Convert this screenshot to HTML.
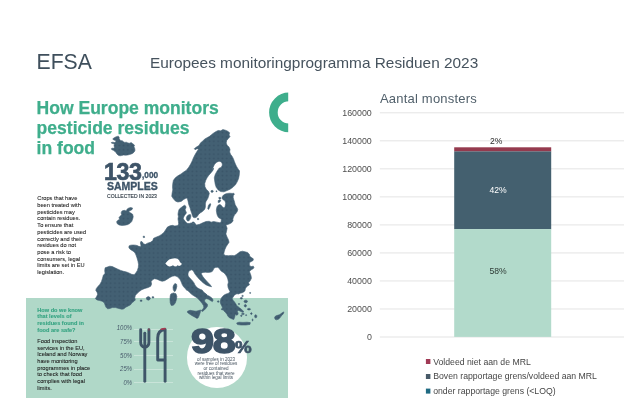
<!DOCTYPE html>
<html lang="nl">
<head>
<meta charset="utf-8">
<title>Europees monitoringprogramma Residuen 2023</title>
<style>
html,body{margin:0;padding:0;background:#fff;}
body{width:626px;height:417px;position:relative;overflow:hidden;font-family:"Liberation Sans",sans-serif;color:#3f4f5c;}
.abs{position:absolute;white-space:nowrap;line-height:1;}
#efsa{left:36.5px;top:50.5px;font-size:21.2px;color:#3f4f5c;}
#title{left:150px;top:54.5px;font-size:15.39px;color:#46535e;}
#band{position:absolute;left:26px;top:298px;width:262px;height:100px;background:#b0d8c8;}
#h1{left:36.6px;top:97.9px;font-size:17.55px;line-height:20px;-webkit-text-stroke:.25px #3fae8c;font-weight:bold;color:#3fae8c;white-space:pre;}
.dk{color:#3e5468;}
#n133{left:103.9px;top:161.1px;font-size:23.2px;font-weight:bold;letter-spacing:-0.3px;-webkit-text-stroke:.7px #3e5468;transform:scaleX(1.0);transform-origin:0 0;}
#n000{left:141.6px;top:169.7px;font-size:9.6px;font-weight:bold;transform:scaleX(.86);transform-origin:0 0;-webkit-text-stroke:.35px #3e5468;}
#samp{left:106.6px;top:180.9px;font-size:11px;font-weight:bold;transform:scaleX(.955);transform-origin:0 0;-webkit-text-stroke:.35px #3e5468;}
#coll{left:107px;top:193.7px;font-size:5.8px;transform:scaleX(.88);transform-origin:0 0;color:#2e3a44;-webkit-text-stroke:.15px #2e3a44;}
.para{position:absolute;left:37.3px;font-size:5.68px;line-height:6.7px;white-space:pre;color:#1c1c1c;-webkit-text-stroke:.07px #1c1c1c;}
#p1{top:195.3px;}
#q{top:306.5px;font-weight:bold;color:#34a381;font-size:5.6px;-webkit-text-stroke:.1px #34a381;}
#p2{top:337.8px;}
.pct{position:absolute;width:30px;left:102px;text-align:right;font-size:6.6px;font-style:italic;color:#46596a;line-height:8px;transform:scaleX(.9);transform-origin:100% 50%;}
.hl{position:absolute;left:133.6px;width:39.5px;height:0.7px;background:rgba(255,255,255,.32);}
#circ{position:absolute;left:187px;top:327.3px;width:60.4px;height:60.4px;border-radius:50%;background:#fff;}
#n98{left:190.6px;top:324px;font-size:34.5px;font-weight:bold;letter-spacing:-1px;-webkit-text-stroke:1.5px #3e5468;transform:scaleX(1.2);transform-origin:0 0;}
#npc{left:235.4px;top:339.8px;font-size:16px;font-weight:bold;-webkit-text-stroke:.7px #3e5468;transform:scaleX(1.17);transform-origin:0 0;}
#ctxt{position:absolute;left:186.5px;width:59px;top:357.5px;text-align:center;font-size:4.55px;line-height:4.73px;color:#46535f;white-space:pre;}
/* chart */
#ctitle{left:380px;top:91.5px;font-size:13px;color:#51606b;letter-spacing:.2px;}
.yl{position:absolute;left:330px;width:41.8px;text-align:right;font-size:8.85px;line-height:10px;color:#4f4f4f;}
.dl{position:absolute;left:449.5px;width:97px;text-align:center;font-size:8.6px;line-height:9px;}
.lg{position:absolute;left:433.2px;font-size:8.7px;line-height:10px;color:#464646;white-space:nowrap;}
</style>
</head>
<body>
<div id="efsa" class="abs">EFSA</div>
<div id="title" class="abs">Europees monitoringprogramma Residuen 2023</div>

<div id="band"></div>
<div id="h1" class="abs">How Europe monitors
pesticide residues
in food</div>
<!--MAP--><svg id="map" width="626" height="417" viewBox="0 0 626 417" style="position:absolute;left:0;top:0">
<defs><pattern id="dots" x="1" y="1.5" width="4.3" height="4.3" patternUnits="userSpaceOnUse"><rect width="4.3" height="4.3" fill="#436073"/><circle cx="2.15" cy="2.15" r=".9" fill="#395468"/></pattern></defs>
<path fill="url(#dots)" stroke="#436073" stroke-width=".6" stroke-linejoin="round" d="M114.78,137.42 116.37,136.63 118.21,136.15 119.17,136.95 119.01,138.22 119.81,139.58 120.93,140.94 122.2,140.62 123.16,141.74 124.76,142.38 126.36,142.22 127.96,143.02 129.71,143.18 131.31,142.54 132.35,143.58 133.55,144.37 134.5,145.17 133.95,146.77 134.74,148.61 134.98,150.36 134.19,151.96 132.91,153.16 131.31,153.96 129.55,154.52 127.56,155 125.56,155.16 123.56,155 121.57,155.56 119.97,155.8 118.21,155.16 116.93,153.96 115.97,152.6 114.78,151.32 113.42,150.36 111.98,149.73 111.18,148.93 111.98,148.13 113.74,148.37 114.54,147.17 113.98,145.97 114.38,144.37 113.18,143.58 111.58,143.18 111.34,142.54 112.78,142.22 114.78,142.54 115.97,141.74 115.58,140.62 113.98,139.98 112.78,139.18 113.42,138.22ZM177.89,202.06 175.59,201.17 173.42,198.87 171.76,196.31 172.14,193.12 172.78,189.92 172.52,186.73 172.78,183.53 173.42,180.34 175.34,177.78 177.89,175.86 181.09,173.95 183.64,172.03 186.2,170.48 188.75,167.28 190.67,164.09 192.2,160.89 193.48,157.7 195.14,154.5 197.06,151.31 198.59,149.14 197.06,148.63 195.14,149.65 194.25,148.75 196.42,147.09 198.98,145.56 200.64,142.75 202.81,141.09 204.47,139.17 206.65,137.89 209.2,136.61 211.12,135.08 213.04,133.42 215.59,131.76 218.15,130.48 220.7,130.86 222.88,129.58 225.43,130.22 227.73,131.25 229.65,132.78 229.01,135.08 230.03,136.61 228.37,138.53 226.71,140.45 226.2,143 227.09,145.3 229.01,147.09 230.03,149.39 229.65,151.95 230.54,154.25 232.2,156.42 233.48,158.98 234.38,161.53 235.4,164.09 236.68,166.65 238.21,169.2 239.49,170.86 239.49,172.03 239.23,175.22 238.59,178.42 237.32,181.61 235.4,184.81 232.84,187.36 230.03,189.28 227.09,190.56 223.9,191.84 220.7,191.58 218.15,189.92 216.23,187.36 215.21,184.17 214.7,180.97 214.31,177.78 215.21,174.58 216.87,171.39 219.04,168.19 221.09,167.54 222.11,165.75 222.36,164.09 221.34,161.92 219.04,161.15 216.23,162.43 214.31,164.73 213.04,167.54 212.4,170.48 213.67,168.19 212.65,170.75 210.86,172.92 208.82,175.22 207.03,177.78 205.75,180.34 204.73,183.53 204.98,186.73 206.26,189.28 208.31,191.2 209.33,193.37 208.5,196.6 207.86,198.35 206.9,199.95 205.94,201.55 205.46,203.15 205.38,204.98 205.38,206.98 204.82,208.98 203.55,210.58 201.79,211.93 200.19,212.97 198.75,214.17 197.56,215.93 196.36,217.36 194.76,217.76 193.16,217.2 192.36,215.61 191.73,213.37 190.93,210.97 190.03,207.81 188.75,204.62 188.12,201.42 187.48,198.87 186.2,197.97 183.64,199.5 181.09,201.42ZM127.86,208.42 130.42,207.52 132.59,208.04 131.95,209.7 130.03,210.59 128.75,211.87 130.67,212.89 132.59,214.17 133.23,216.73 132.59,219.28 131.69,221.58 130.03,223.37 127.48,224.65 124.92,225.16 121.98,225.42 119.17,225.03 117.25,223.75 116.61,221.84 117.89,220.3 119.81,219.28 118.91,217.75 120.19,216.09 121.73,214.81 121.09,212.89 121.98,210.97 124.28,210.34 126.2,210.97 127.09,209.31ZM187.17,215.93 188.77,214.81 190.37,214.57 190.93,215.93 190.61,217.76 189.97,219.36 189.01,220.72 187.57,220.96 186.61,219.76 186.37,217.76ZM192.36,222 193.96,222 194.12,223.27 192.52,223.35ZM197.4,218.4 198.59,218.4 198.75,219.6 197.56,219.68ZM209.95,203.58 210.75,203.97 210.43,205.57 209.63,207.57 208.59,209.41 207.8,208.93 208.04,207.01 208.59,205.17ZM211.23,190.56 212.83,190.4 213.31,191.51 212.67,192.31 211.39,192.31 210.91,191.51ZM218.74,197.58 220.18,197.19 220.97,197.98 220.58,199.02 219.22,199.18ZM218.18,200.62 219.54,199.98 220.81,200.14 220.34,201.42 219.22,202.38 218.26,202.54ZM216.02,190.88 216.98,190.88 216.98,191.67 216.02,191.67ZM184.78,205.22 183.58,205.78 181.98,206.98 180.22,208.18 178.95,209.78 178.39,211.77 177.99,214.17 178.39,216.57 177.99,218.96 178.39,221.36 178.63,223.75 177.99,225.59 174.79,225.99 172.4,225.35 170,225.83 167.41,227 167.12,227.59 165.53,229.99 163.93,232.38 161.53,234.38 159.14,235.98 155.94,237.18 153.55,238.37 152.75,240.77 150.35,242.37 147.56,243.17 145.56,244.36 143.56,243.96 142.36,241.97 140.93,241.33 140.37,242.93 140.93,245.16 140.61,246.76 138.77,246.36 137.17,245.56 135.58,245.16 133.18,245 130.78,245.16 129.19,245.8 128.79,247.16 129.58,248.76 131.18,249.96 133.18,251.15 134.98,252.78 136.01,255.08 137.03,257.89 137.92,261.09 138.56,264.28 138.31,267.48 137.28,270.67 135.75,272.97 134.09,274.76 131.53,274.25 128.98,272.97 126.42,271.95 123.48,271.31 120.67,270.42 117.86,269.14 114.92,267.86 112.36,266.58 109.81,266.2 107.25,267.09 105.08,267.86 104.7,270.67 105.08,273.48 103.42,275 102.52,278.19 101.5,281.39 99.97,284.2 97.92,286.5 96.39,288.42 95.75,290.34 97.03,292.25 97.67,294.17 96.65,296.47 95.37,298.64 97.03,299.92 99.58,300.56 102.14,301.2 104.31,302.86 105.08,305.03 105.97,307.2 107.64,308.87 109.81,308.48 112.36,307.59 115.56,307.59 118.75,308.48 121.95,309.25 123.87,308.87 125.78,307.2 128.34,305.93 130.64,304.65 131.92,302.86 134.09,301.2 135.37,299.92 134.73,298 135.37,295.45 137.03,293.53 139.2,291.61 141.76,289.7 144.95,288.42 148.15,287.52 150.7,286.25 151.6,283.95 151.09,281.65 152.36,279.86 151.92,280.03 154.47,278.75 157.03,279.14 159.58,280.42 162.14,281.31 164.7,280.67 167.25,279.14 169.81,277.48 172.36,276.2 174.92,275.81 177.09,276.58 178.88,278.12 180.42,280.03 181.44,282.59 182.33,284.76 183.61,286.81 185.27,288.59 187.06,290.64 187.6,290.37 189.65,292.41 191.95,294.58 194.5,296.25 197.06,297.78 198.98,299.7 200.64,301.61 202.17,303.53 203.45,305.45 203.83,307.36 202.81,309.28 201.15,310.56 202.17,311.58 204.09,310.3 206.01,308.26 207.54,306.09 207.28,303.91 205.62,302.64 204.47,300.97 204.98,299.31 206.65,298.67 208.56,299.31 210.48,300.59 212.4,301.61 213.16,300.08 211.88,298.04 209.84,296.5 207.28,295.22 204.98,293.69 206.96,294.75 205.36,293.55 203.93,292.35 202.97,291.15 202.17,290.12 200.73,289.56 198.97,288.76 197.38,287.72 195.78,286.36 194.82,284.76 194.02,282.93 192.58,281.01 190.99,279.17 189.39,277.58 188.19,275.98 187.95,273.98 188.43,271.98 189.79,270.39 191.79,269.83 193.22,270.63 194.02,272.22 194.98,273.98 196.18,275.58 197.78,277.58 199.37,279.17 201.37,281.17 203.37,282.93 205.76,284.76 208.56,285.96 211.59,286.76 210.16,284.76 208.4,282.93 206.56,281.01 204.73,278.93 202.97,276.78 201.77,274.78 201.21,273.18 202.97,272.38 205.36,272.22 207.76,272.38 210.16,272.22 212.15,271.58 213.19,269.99 213.75,268.39 215.35,267.43 217.35,267.19 218.94,267.99 219.9,269.59 221.34,271.19 223.34,272.38 224.93,273.82 226.76,276.39 227.78,278.95 228.42,282.14 227.78,284.7 228.04,287.25 229.06,289.81 230.08,291.73 228.18,293.43 226.18,293.99 224.19,295.03 222.59,296.39 221.39,297.98 220.59,299.98 220.19,301.98 220.75,303.97 221.79,305.97 222.59,307.97 222.99,309.57 224.19,311.16 225.78,312.76 226.98,314.36 227.78,315.96 228.98,317.39 230.58,318.35 232.17,318.99 233.77,319.55 234.57,317.55 234.97,315.96 235.37,314.36 236.57,315.16 237.76,314.76 238.16,313.16 237.36,311.56 238.16,310.36 239.36,310.76 240.96,311.56 242.56,312.36 243.75,311.96 242.96,310.76 241.36,309.17 239.76,307.97 238.16,306.77 236.57,305.17 235.61,303.58 234.57,301.98 233.21,300.38 232.17,298.78 232.97,297.19 234.17,295.59 235.37,294.39 236.96,293.75 238.56,293.99 240.16,293.19 242.16,292.79 243.75,291.99 244.95,290.8 245.35,288.8 245.67,287.89 247.59,285.97 249.5,284.7 248.48,282.78 250.14,280.86 251.42,278.31 251.04,275.75 250.27,273.56 249.5,271.65 250.78,269.98 252.7,269.09 253.98,267.81 253.34,266.15 251.42,266.53 249.76,265.89 249.25,263.98 249.76,262.32 251.42,261.42 253.08,260.53 253.34,258.87 251.42,257.59 249.76,256.31 249.25,254.14 247.59,252.48 245.03,251.84 242.48,251.2 239.92,251.84 238,253.37 236.09,254.65 234.17,255.67 231.61,255.42 228.42,255.67 225.22,255.42 223.69,254.14 224.2,251.84 224.97,249.28 226.25,246.47 227.78,244.17 229.06,242.25 228.42,239.7 227.14,237.14 225.86,233.95 226.5,231.39 227.14,228.19 225.86,225 227.09,224.7 229.65,223.8 231.57,222.78 233.1,220.86 232.8,219.15 233.35,217.55 233.91,216.12 234.55,214.76 235.75,213.72 236.55,212.6 237.35,211.16 237.75,209.57 237.11,207.97 236.15,206.37 235.19,204.77 234.71,202.78 234.15,200.78 233.59,199.18 233.12,197.19 233.35,195.59 234.39,194.23 233.75,193.19 232.16,193.43 229.76,193.19 227.36,193.43 225.37,193.99 223.53,195.03 222.41,196.39 221.93,197.98 222.57,199.18 223.53,199.98 224.57,200.62 225.37,201.98 225.61,203.58 225.37,205.17 224.97,206.77 224.17,207.97 223.21,207.57 222.17,206.53 221.37,205.57 220.58,204.77 219.38,204.61 218.18,205.17 217.14,206.53 216.58,208.37 216.34,210.36 216.58,212.36 216.98,214.36 217.62,216.12 218.58,217.55 220.02,218.51 221.37,219.31 221.09,221.76 220.06,222.78 216.87,222.14 213.67,221.5 211.12,222.14 209.2,221.25 206.01,221.5 202.81,222.78 199.62,224.31 196.42,225.08 194.5,222.78 190.93,222.96 189.17,223.59 187.17,223.35 186.37,222.56 185.18,221.36 183.98,219.76 183.18,218.16 183.98,216.57 184.78,214.97 185.97,213.77 186.37,212.17 185.58,210.97 185.18,209.38 185.97,207.78 185.81,206.18ZM174.92,283.48 176.58,284.25 176.84,286.42 176.2,288.98 175.3,291.15 174.28,291.53 173.26,289.62 173,287.06 173.64,285.14ZM170.86,293.95 173.42,292.92 175.97,293.69 176.87,296.5 176.36,299.7 175.34,302.89 173.42,305.19 171.25,305.45 170.22,302.89 169.97,299.06 170.22,295.86ZM187.48,311.2 190.03,310.3 192.97,310.81 196.04,311.2 198.98,310.56 200.64,309.92 200.26,312.48 199.36,315.03 198.34,317.59 197.06,318.48 194.5,316.95 191.69,315.42 189.14,313.75 187.48,312.48ZM274.58,317.46 275.54,316.03 277.46,315.35 279.38,314.78 280.81,313.82 282.54,312.48 283.88,311.9 283.5,313.44 282.25,315.07 280.81,316.51 279.86,317.94 278.42,319.19 276.5,319.86 275.06,319.19ZM236.6,323 239,322.2 243,322.4 247,322.2 250.3,322.6 250,324.4 246,325 241,325 237.5,324.6ZM146.23,297.75 148.15,296.47 150.06,297.36 150.32,299.03 148.79,300.18 146.87,299.66ZM152.11,296.73 153.64,296.73 153.77,298 152.24,298ZM140.35,300.05 141.88,300.05 141.88,301.33 140.35,301.33ZM242.48,298.22 242.26,298.69 241.7,298.98 241.01,298.98 240.45,298.69 240.24,298.22 240.45,297.75 241.01,297.46 241.7,297.46 242.26,297.75ZM247.51,301.42 247.17,302.17 246.29,302.63 245.21,302.63 244.33,302.17 243.99,301.42 244.33,300.67 245.21,300.2 246.29,300.2 247.17,300.67ZM246.47,305.73 246.26,306.48 245.7,306.95 245.01,306.95 244.45,306.48 244.23,305.73 244.45,304.98 245.01,304.52 245.7,304.52 246.26,304.98ZM250.54,309.17 250.24,309.64 249.44,309.93 248.45,309.93 247.65,309.64 247.35,309.17 247.65,308.7 248.45,308.41 249.44,308.41 250.24,308.7ZM252.14,313.56 251.99,314.12 251.59,314.47 251.1,314.47 250.7,314.12 250.54,313.56 250.7,313 251.1,312.65 251.59,312.65 251.99,313ZM256.85,316.35 256.64,317.29 256.08,317.87 255.39,317.87 254.83,317.29 254.62,316.35 254.83,315.42 255.39,314.84 256.08,314.84 256.64,315.42ZM244.39,313.96 244.12,314.33 243.4,314.57 242.51,314.57 241.79,314.33 241.52,313.96 241.79,313.58 242.51,313.35 243.4,313.35 244.12,313.58ZM242.16,315.8 242,316.17 241.6,316.4 241.11,316.4 240.71,316.17 240.56,315.8 240.71,315.42 241.11,315.19 241.6,315.19 242,315.42ZM246.79,315.16 246.67,315.44 246.35,315.61 245.95,315.61 245.63,315.44 245.51,315.16 245.63,314.87 245.95,314.7 246.35,314.7 246.67,314.87ZM250.7,292.95 250.6,293.28 250.32,293.48 249.97,293.48 249.69,293.28 249.58,292.95 249.69,292.62 249.97,292.42 250.32,292.42 250.6,292.62ZM243.35,295.99 243.2,296.36 242.8,296.59 242.31,296.59 241.91,296.36 241.76,295.99 241.91,295.61 242.31,295.38 242.8,295.38 243.2,295.61ZM239.76,303.97 239.61,304.26 239.21,304.43 238.71,304.43 238.32,304.26 238.16,303.97 238.32,303.69 238.71,303.52 239.21,303.52 239.61,303.69ZM253.18,319.95 253.06,320.42 252.74,320.71 252.34,320.71 252.02,320.42 251.9,319.95 252.02,319.48 252.34,319.19 252.74,319.19 253.06,319.48ZM218.99,301.58 218.84,302.05 218.44,302.34 217.95,302.34 217.55,302.05 217.4,301.58 217.55,301.11 217.95,300.82 218.44,300.82 218.84,301.11ZM222.99,309.17 222.83,309.64 222.44,309.93 221.94,309.93 221.54,309.64 221.39,309.17 221.54,308.7 221.94,308.41 222.44,308.41 222.83,308.7ZM143.16,236.22 144.44,236.22 144.6,237.5 143.32,237.58Z"/>
<path fill="#fff" d="M165.34,263.42 167.25,261.25 169.17,259.58 171.73,258.69 174.92,258.31 177.48,258.69 179.14,260.22 180.03,262.14 181.69,263.42 181.31,265.08 179.14,265.97 177.48,265.34 176.2,266.61 174.28,266.36 173,265.34 171.09,266.36 169.17,266.61 167.25,265.59Z"/>
</svg><!--/MAP-->
<div id="n133" class="abs dk">133</div>
<div id="n000" class="abs dk">,000</div>
<div id="samp" class="abs dk">SAMPLES</div>
<div id="coll" class="abs dk">COLLECTED IN 2023</div>
<div id="p1" class="para">Crops that have
been treated with
pesticides may
contain residues.
To ensure that
pesticides are used
correctly and their
residues do not
pose a risk to
consumers, legal
limits are set in EU
legislation.</div>
<div id="q" class="para">How do we know
that levels of
residues found in
food are safe?</div>
<div id="p2" class="para">Food inspection
services in the EU,
Iceland and Norway
have monitoring
programmes in place
to check that food
complies with legal
limits.</div>
<div class="hl" style="top:328.6px"></div>
<div class="hl" style="top:341.3px"></div>
<div class="hl" style="top:354.8px"></div>
<div class="hl" style="top:368.5px"></div>
<div class="hl" style="top:381.6px"></div>
<div class="pct" style="top:324px">100%</div>
<div class="pct" style="top:338px">75%</div>
<div class="pct" style="top:351.7px">50%</div>
<div class="pct" style="top:365.1px">25%</div>
<div class="pct" style="top:379px">0%</div>
<!--FORK--><svg width="626" height="417" viewBox="0 0 626 417" style="position:absolute;left:0;top:0">
<g fill="none" stroke="#3e5568" stroke-width="2.9" stroke-linecap="round" stroke-linejoin="round">
<path d="M140.7,329.6V342.5Q140.7,346.4 144.8,347.4Q148.9,346.4 148.9,342.5V329.6"/>
<path d="M144.8,333.2V381.2"/>
<path d="M165.1,329.6V381.2"/>
<path d="M164.6,329.8Q157.7,330.4 157.7,338V360H164.8"/>
</g>
<path d="M161.2,329.2Q163,328.6 165.1,328.6" fill="none" stroke="#a63a50" stroke-width="1.6" stroke-linecap="round"/>
<path d="M148.9,329.1v.8" fill="none" stroke="#a63a50" stroke-width="1.6" stroke-linecap="round" opacity=".6"/>
<rect x="425.9" y="359" width="4.5" height="5" fill="#a03a55"/><rect x="425.9" y="374" width="4.5" height="5" fill="#475a68"/><rect x="425.9" y="388.6" width="4.5" height="5" fill="#1f6a82"/>
<clipPath id="rc"><rect x="260" y="85" width="28.2" height="60"/></clipPath><circle cx="288.9" cy="112.4" r="15.5" fill="none" stroke="#3eae8c" stroke-width="8.6" clip-path="url(#rc)"/>
</svg><!--/FORK-->
<div id="circ"></div>
<div id="n98" class="abs dk">98</div>
<div id="npc" class="abs dk">%</div>
<div id="ctxt">of samples in 2023
were free of residues
or contained
residues that were
within legal limits</div>

<!--CHART--><svg width="626" height="417" viewBox="0 0 626 417" style="position:absolute;left:0;top:0"><rect x="379.8" y="112.30" width="244.2" height="1" fill="#e4e4e4"/><rect x="379.8" y="140.32" width="244.2" height="1" fill="#e4e4e4"/><rect x="379.8" y="168.35" width="244.2" height="1" fill="#e4e4e4"/><rect x="379.8" y="196.38" width="244.2" height="1" fill="#e4e4e4"/><rect x="379.8" y="224.40" width="244.2" height="1" fill="#e4e4e4"/><rect x="379.8" y="252.43" width="244.2" height="1" fill="#e4e4e4"/><rect x="379.8" y="280.45" width="244.2" height="1" fill="#e4e4e4"/><rect x="379.8" y="308.47" width="244.2" height="1" fill="#e4e4e4"/><rect x="379.8" y="336.50" width="244.2" height="1" fill="#e4e4e4"/><rect x="454.2" y="147.3" width="97" height="4.2" fill="#943a4e"/><rect x="454.2" y="151.4" width="97" height="77.8" fill="#44606f"/><rect x="454.2" y="229.1" width="97" height="107.8" fill="#b2dacb"/></svg><!--/CHART-->
<div id="ctitle" class="abs">Aantal monsters</div>
<div class="yl" style="top:108.05px">160000</div>
<div class="yl" style="top:136.07px">140000</div>
<div class="yl" style="top:164.10px">120000</div>
<div class="yl" style="top:192.12px">100000</div>
<div class="yl" style="top:220.15px">80000</div>
<div class="yl" style="top:248.18px">60000</div>
<div class="yl" style="top:276.20px">40000</div>
<div class="yl" style="top:304.22px">20000</div>
<div class="yl" style="top:332.25px">0</div>
<div class="dl" style="top:137.4px;left:447.7px;color:#2b2b2b;">2%</div>
<div class="dl" style="top:185.9px;color:#fff;">42%</div>
<div class="dl" style="top:266.8px;color:#2f3b36;">58%</div>
<div class="lg" style="top:356.6px">Voldeed niet aan de MRL</div>
<div class="lg" style="top:371.3px">Boven rapportage grens/voldeed aan MRL</div>
<div class="lg" style="top:386.1px">onder rapportage grens (&lt;LOQ)</div>
</body>
</html>
